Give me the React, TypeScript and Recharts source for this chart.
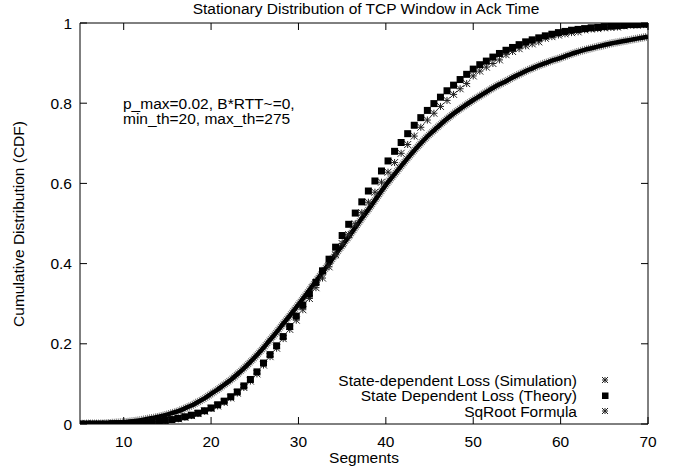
import React from "react"
import { ComposedChart, Line, XAxis, YAxis, ReferenceLine } from "recharts"

// window size (segments), sampled every 0.75
const segments = [
  5, 5.75, 6.5, 7.25, 8, 8.75, 9.5, 10.25, 11, 11.75, 12.5, 13.25, 14, 14.75, 15.5, 16.25,
  17, 17.75, 18.5, 19.25, 20, 20.75, 21.5, 22.25, 23, 23.75, 24.5, 25.25, 26, 26.75, 27.5, 28.25,
  29, 29.75, 30.5, 31.25, 32, 32.75, 33.5, 34.25, 35, 35.75, 36.5, 37.25, 38, 38.75, 39.5, 40.25,
  41, 41.75, 42.5, 43.25, 44, 44.75, 45.5, 46.25, 47, 47.75, 48.5, 49.25, 50, 50.75, 51.5, 52.25,
  53, 53.75, 54.5, 55.25, 56, 56.75, 57.5, 58.25, 59, 59.75, 60.5, 61.25, 62, 62.75, 63.5, 64.25,
  65, 65.75, 66.5, 67.25, 68, 68.75, 69.5, 70,
]

const simulationCdf = [
  0.0, 0.0, 0.0, 0.0, 0.0, 0.0, 0.001, 0.001, 0.002, 0.002, 0.003, 0.005, 0.006, 0.008, 0.011, 0.013,
  0.017, 0.021, 0.026, 0.032, 0.039, 0.045, 0.054, 0.065, 0.077, 0.091, 0.107, 0.125, 0.147, 0.168, 0.189, 0.213,
  0.236, 0.259, 0.285, 0.313, 0.34, 0.364, 0.392, 0.422, 0.45, 0.472, 0.499, 0.527, 0.553, 0.578, 0.603, 0.628,
  0.652, 0.675, 0.697, 0.718, 0.74, 0.758, 0.775, 0.792, 0.807, 0.822, 0.836, 0.849, 0.868, 0.88, 0.89, 0.899,
  0.908, 0.921, 0.929, 0.936, 0.943, 0.948, 0.953, 0.962, 0.966, 0.97, 0.973, 0.976, 0.978, 0.983, 0.985, 0.986,
  0.988, 0.989, 0.99, 0.993, 0.995, 0.995, 0.996, 0.999,
]

const theoryCdf = [
  0.0, 0.0, 0.0, 0.0, 0.0, 0.001, 0.001, 0.001, 0.002, 0.003, 0.004, 0.005, 0.007, 0.009, 0.011, 0.014,
  0.018, 0.022, 0.027, 0.033, 0.04, 0.048, 0.057, 0.068, 0.08, 0.095, 0.111, 0.13, 0.152, 0.173, 0.195, 0.218,
  0.243, 0.269, 0.296, 0.324, 0.353, 0.382, 0.411, 0.441, 0.47, 0.498, 0.526, 0.554, 0.581, 0.606, 0.631, 0.656,
  0.68, 0.702, 0.724, 0.745, 0.764, 0.782, 0.799, 0.815, 0.831, 0.845, 0.859, 0.872, 0.885, 0.896, 0.905, 0.915,
  0.924, 0.932, 0.939, 0.946, 0.953, 0.958, 0.963, 0.968, 0.972, 0.976, 0.979, 0.982, 0.984, 0.986, 0.988, 0.989,
  0.991, 0.992, 0.993, 0.994, 0.996, 0.996, 0.997, 0.998,
]

const sqrootCdf = [
  0.0, 0.001, 0.001, 0.001, 0.002, 0.003, 0.004, 0.005, 0.007, 0.009, 0.012, 0.015, 0.018, 0.022, 0.027, 0.032,
  0.039, 0.046, 0.055, 0.064, 0.075, 0.086, 0.098, 0.11, 0.124, 0.139, 0.155, 0.172, 0.19, 0.21, 0.229, 0.25,
  0.27, 0.291, 0.312, 0.334, 0.356, 0.378, 0.4, 0.423, 0.445, 0.467, 0.49, 0.513, 0.535, 0.558, 0.581, 0.603,
  0.623, 0.643, 0.663, 0.682, 0.7, 0.717, 0.732, 0.747, 0.761, 0.774, 0.786, 0.797, 0.808, 0.818, 0.828, 0.838,
  0.847, 0.855, 0.864, 0.872, 0.88, 0.887, 0.894, 0.9, 0.906, 0.911, 0.917, 0.923, 0.928, 0.933, 0.937, 0.941,
  0.945, 0.949, 0.952, 0.955, 0.958, 0.961, 0.964, 0.966,
]

const xTicks = [10, 20, 30, 40, 50, 60, 70]
const yTicks = [0, 0.2, 0.4, 0.6, 0.8, 1]
const legendLabels = ["State-dependent Loss (Simulation)", "State Dependent Loss (Theory)", "SqRoot Formula"]
const noteLines = ["p_max=0.02, B*RTT~=0,", "min_th=20, max_th=275"]

const W = 673
const H = 467
const PLOT_LEFT = 80
const PLOT_RIGHT = 648
const PLOT_TOP = 23
const FONT = '"Liberation Sans", Arial, Helvetica, sans-serif'
const FS = 15.5
const TICK_LEN = 7

const rows = segments.map((x, i) => ({
  x,
  sim: simulationCdf[i],
  theory: theoryCdf[i],
  sqroot: sqrootCdf[i],
}))

function Star({ cx, cy, r = 3.5, color = "#222" }: { cx: number; cy: number; r?: number; color?: string }) {
  return (
    <g stroke={color} strokeWidth={1}>
      <line x1={cx - r} x2={cx + r} y1={cy} y2={cy} />
      <line x1={cx} x2={cx} y1={cy - r} y2={cy + r} />
      <line x1={cx - r} x2={cx + r} y1={cy - r} y2={cy + r} />
      <line x1={cx - r} x2={cx + r} y1={cy + r} y2={cy - r} />
    </g>
  )
}

const renderStar = (p: any) => <Star key={`s-${p.index}`} cx={p.cx} cy={p.cy} />
const renderSquare = (p: any) => (
  <rect key={`q-${p.index}`} x={p.cx - 3.5} y={p.cy - 3.5} width={7} height={7} fill="#000" />
)

const renderXTick = (p: any) => {
  const axisY = p.y - 12
  return (
    <g>
      <line x1={p.x} x2={p.x} y1={axisY} y2={axisY - TICK_LEN} stroke="#000" />
      <line x1={p.x} x2={p.x} y1={PLOT_TOP} y2={PLOT_TOP + TICK_LEN} stroke="#000" />
      <text x={p.x} y={p.y} dy="0.71em" textAnchor="middle" fontFamily={FONT} fontSize={FS} fill="#000">
        {p.payload.value}
      </text>
    </g>
  )
}

const renderYTick = (p: any) => (
  <g>
    <line x1={PLOT_LEFT} x2={PLOT_LEFT + TICK_LEN} y1={p.y} y2={p.y} stroke="#000" />
    <line x1={PLOT_RIGHT - TICK_LEN} x2={PLOT_RIGHT} y1={p.y} y2={p.y} stroke="#000" />
    <text x={p.x} y={p.y} dy="0.355em" textAnchor="end" fontFamily={FONT} fontSize={FS} fill="#000">
      {String(p.payload.value)}
    </text>
  </g>
)

const legendRows = [380, 395.5, 411]

export default function App() {
  return (
    <div style={{ position: "absolute", left: 0, top: 0, width: W, height: H, background: "#fff" }}>
      <ComposedChart width={W} height={H} data={rows} margin={{ top: PLOT_TOP, right: W - PLOT_RIGHT, bottom: 0, left: 0 }}>
        <XAxis
          type="number"
          dataKey="x"
          domain={[5, 70]}
          ticks={xTicks}
          tick={renderXTick}
          tickSize={0}
          tickMargin={12}
          tickLine={false}
          height={43}
          axisLine={{ stroke: "#000" }}
          allowDataOverflow
        />
        <YAxis
          type="number"
          domain={[0, 1]}
          ticks={yTicks}
          tick={renderYTick}
          tickSize={0}
          tickMargin={8}
          tickLine={false}
          width={80}
          axisLine={{ stroke: "#000" }}
          allowDataOverflow
        />
        <ReferenceLine y={1} stroke="#000" />
        <ReferenceLine x={70} stroke="#000" />
        <Line dataKey="sim" stroke="none" dot={renderStar} activeDot={false} isAnimationActive={false} />
        <Line dataKey="theory" stroke="none" dot={renderSquare} activeDot={false} isAnimationActive={false} />
        <Line
          dataKey="sqroot"
          type="monotone"
          stroke="#777"
          strokeWidth={8}
          strokeDasharray="1 1"
          dot={false}
          activeDot={false}
          isAnimationActive={false}
        />
        <Line
          dataKey="sqroot"
          type="monotone"
          stroke="#000"
          strokeWidth={4.5}
          dot={false}
          activeDot={false}
          isAnimationActive={false}
        />
      </ComposedChart>
      <svg
        width={W}
        height={H}
        style={{ position: "absolute", left: 0, top: 0, pointerEvents: "none" }}
        fontFamily={FONT}
        fontSize={FS}
        fill="#000"
      >
        <text x={366} y={14} textAnchor="middle">Stationary Distribution of TCP Window in Ack Time</text>
        <text x={364} y={463} textAnchor="middle">Segments</text>
        <text x={18} y={224} textAnchor="middle" dominantBaseline="central" transform="rotate(-90 18 224)">
          Cumulative Distribution (CDF)
        </text>
        {noteLines.map((t, i) => (
          <text key={t} x={123} y={108.5 + i * 15.5}>{t}</text>
        ))}
        {legendLabels.map((t, i) => (
          <text key={t} x={577} y={legendRows[i] + 5.5} textAnchor="end">{t}</text>
        ))}
        <Star cx={605} cy={legendRows[0]} r={3} />
        <rect x={602} y={legendRows[1] - 3} width={6.5} height={6.5} fill="#000" />
        <Star cx={605} cy={legendRows[2]} r={3} />
      </svg>
    </div>
  )
}
